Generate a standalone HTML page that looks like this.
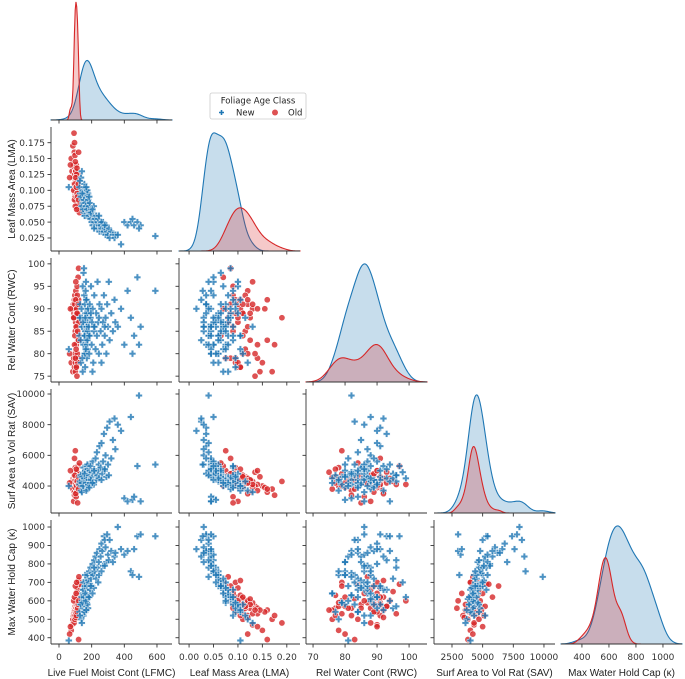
<!DOCTYPE html>
<html><head><meta charset="utf-8"><style>
html,body{margin:0;padding:0;background:#fff;}
svg{display:block;font-family:"DejaVu Sans","Liberation Sans",sans-serif;}
</style></head><body>
<svg id="chart" width="685" height="679" viewBox="0 0 685 679" xmlns="http://www.w3.org/2000/svg">
<g id="plots"></g>
<g>
<rect x="210" y="93" width="96" height="26" rx="2" fill="#fff" stroke="#ccc" stroke-width="0.8"/>
<text x="258" y="103.5" font-size="8.5" text-anchor="middle" fill="#222">Foliage Age Class</text>
<g><path d="M219,112.5 h5 M221.5,110 v5" stroke="#1f77b4" stroke-width="1.6"/><text x="236" y="115.5" font-size="8.5" fill="#222">New</text></g>
<g><circle cx="275" cy="112.5" r="3" fill="#d62728" opacity="0.8"/><text x="288" y="115.5" font-size="8.5" fill="#222">Old</text></g>
</g>
</svg>
<script>
// ---- data (estimated observations) ----
const newLFMC=[125,130,135,140,145,150,150,155,155,160,160,162,165,165,168,170,170,172,175,175,178,140,145,150,155,158,160,163,166,170,173,176,128,133,138,143,148,153,157,161,164,167,171,174,179,
182,185,188,190,193,196,200,203,206,210,213,216,220,224,228,232,236,240,244,248,185,195,205,215,245,
255,260,265,270,275,280,285,290,295,300,305,310,320,330,340,260,280,345,
360,380,400,420,440,450,460,480,500,490,590,60];
const newLMA=[.105,.095,.12,.085,.10,.075,.09,.11,.08,.07,.095,.085,.065,.10,.08,.075,.09,.06,.085,.07,.095,.13,.08,.065,.105,.075,.06,.09,.07,.08,.10,.065,.115,.09,.075,.095,.07,.085,.06,.08,.075,.105,.07,.06,.085,
.075,.06,.065,.08,.055,.07,.05,.065,.045,.06,.075,.05,.055,.045,.06,.04,.05,.055,.045,.035,.09,.065,.07,.04,.06,
.045,.04,.035,.05,.035,.04,.03,.045,.035,.03,.04,.025,.035,.03,.025,.05,.045,.03,
.03,.015,.05,.045,.05,.055,.045,.05,.045,.04,.028,.105];
const newRWC=[84,91,78,88,95,82,86,80,93,85,77,89,83,96,87,79,92,84,88,81,90,86,76,98,84,91,80,94,86,82,89,85,88,83,90,79,87,99,84,88,81,92,86,83,90,
86,80,91,84,88,95,82,87,90,78,85,93,86,81,89,84,96,87,80,91,84,89,76,86,88,
85,90,82,87,93,84,88,80,91,86,96,83,89,85,92,78,86,87,
86,90,82,94,88,80,84,97,86,82,94,81];
const newSAV=[4100,4600,3700,4300,4800,4400,5200,3900,4500,4200,4700,4000,4900,4300,4600,4100,5300,4400,3800,4700,4200,3600,4500,4900,4000,4400,5000,4300,4600,4100,3900,5100,4300,4700,4200,4600,4000,4500,4800,4300,4200,3700,4500,5400,4100,
4400,4700,5000,4200,5300,4500,4900,4600,5600,4300,4100,5100,4800,5800,4400,6200,4700,5000,5400,6600,3900,4400,4200,5000,4500,
5200,6800,4800,5600,7400,5000,6000,4600,7800,5400,4700,8200,5800,7000,8400,4400,5100,6400,
8000,7600,3200,3000,8500,3100,3300,5300,3000,9900,5400,4000];
const newMWHC=[540,580,500,600,560,630,520,580,660,680,540,620,700,570,640,590,660,720,610,680,560,480,640,700,540,670,740,600,660,630,580,710,520,580,620,590,660,620,680,640,600,550,680,740,620,
700,760,680,660,780,720,750,680,800,740,670,820,760,840,720,860,780,700,810,880,620,680,640,780,740,
840,910,870,790,950,930,890,810,960,850,820,930,870,810,840,760,790,860,
1000,880,850,870,760,740,880,950,960,730,950,385];
const oldLFMC=[75,80,85,88,90,92,94,95,96,97,98,99,100,100,101,102,103,104,105,106,107,108,109,110,111,112,113,114,115,116,117,118,120,122,125,92,95,98,100,103,105,107,110,112,115,90,95,100,105,108,97,102,106,111,114,118,120,65,120,70];
const oldLMA=[.15,.13,.17,.12,.14,.11,.16,.10,.125,.09,.135,.105,.115,.095,.13,.10,.12,.085,.11,.14,.095,.105,.075,.12,.09,.11,.08,.10,.125,.085,.07,.095,.105,.08,.065,.19,.175,.155,.145,.13,.115,.125,.135,.115,.10,.10,.085,.075,.09,.07,.11,.12,.105,.095,.09,.11,.085,.12,.16,.14];
const oldRWC=[78,90,76,91,79,89,92,77,88,93,80,90,85,78,91,87,94,79,89,82,92,77,90,86,95,80,88,91,83,89,97,79,92,87,84,88,82,90,76,96,81,89,75,93,78,88,91,79,86,90,84,92,77,89,85,91,99,80,83,90];
const oldSAV=[4000,4300,3800,4500,4100,4700,3600,4200,4400,4900,4000,4300,4600,5200,3900,4200,4500,4800,4100,3700,4400,4600,5000,4200,4300,3900,4700,4100,4400,4800,5300,4000,4500,4200,5500,4300,3400,3900,4600,4100,4400,3600,4900,4200,4500,3000,5800,6300,3300,4000,4700,3500,5100,4300,2900,4600,4100,4200,3800,5000];
const oldMWHC=[440,470,500,520,530,540,550,560,560,570,570,580,580,570,590,590,600,600,610,560,620,630,640,600,650,620,660,670,610,680,690,700,710,730,690,480,520,540,550,530,560,580,550,570,590,600,620,680,640,700,500,510,520,540,560,580,600,420,390,460];
const varLabels=["Live Fuel Moist Cont (LFMC)","Leaf Mass Area (LMA)","Rel Water Cont (RWC)","Surf Area to Vol Rat (SAV)","Max Water Hold Cap (\u03BA)"];
const xTicks=[[0,200,400,600],[0,0.05,0.1,0.15,0.2],[70,80,90,100],[2500,5000,7500,10000],[400,600,800,1000]];
const xTickLabels=[["0","200","400","600"],["0.00","0.05","0.10","0.15","0.20"],["70","80","90","100"],["2500","5000","7500","10000"],["400","600","800","1000"]];
const yTicks=[[],[0.025,0.05,0.075,0.1,0.125,0.15,0.175],[75,80,85,90,95,100],[4000,6000,8000,10000],[400,500,600,700,800,900,1000]];
const yTickLabels=[[],["0.025","0.050","0.075","0.100","0.125","0.150","0.175"],["75","80","85","90","95","100"],["4000","6000","8000","10000"],["400","500","600","700","800","900","1000"]];
// ---- layout ----
const colX=[51,179,306,434,561], W=121;
const rowY=[-4,127,258,389,520], H=124;
const xDom=[[-49,692],[-0.0206,0.227],[67.8,105.6],[1033,10900],[245,1141]];
const yDom=[null,[0.0045,0.1997],[73.7,101.3],[2240,10326],[366,1038]];
const NEW=[newLFMC,newLMA,newRWC,newSAV,newMWHC], OLD=[oldLFMC,oldLMA,oldRWC,oldSAV,oldMWHC];
const BLUE="#1f77b4", RED="#d62728";
const NS="http://www.w3.org/2000/svg";
const root=document.getElementById('plots');
function el(tag,attrs,parent){const e=document.createElementNS(NS,tag);for(const k in attrs)e.setAttribute(k,attrs[k]);(parent||root).appendChild(e);return e;}
function sx(j,v){return colX[j]+(v-xDom[j][0])/(xDom[j][1]-xDom[j][0])*W;}
function sy(i,v){return rowY[i]+H-(v-yDom[i][0])/(yDom[i][1]-yDom[i][0])*H;}
function kde(arr,x){const n=arr.length,m=arr.reduce((a,b)=>a+b,0)/n;const sd=Math.sqrt(arr.reduce((a,b)=>a+(b-m)*(b-m),0)/(n-1));const h=sd*Math.pow(n,-0.2);let s=0;for(const v of arr){const z=(x-v)/h;s+=Math.exp(-0.5*z*z);}return s/(h*Math.sqrt(2*Math.PI));}
for(let i=0;i<5;i++){
  for(let j=0;j<=i;j++){
    const g=el('g',{});
    
    
    const x0=colX[j],y0=rowY[i];
    if(i===j){
      const N=160, xs=[];for(let k=0;k<=N;k++)xs.push(xDom[j][0]+(xDom[j][1]-xDom[j][0])*k/N);
      const dn=xs.map(x=>kde(NEW[j],x)*NEW[j].length), dol=xs.map(x=>kde(OLD[j],x)*OLD[j].length);
      const mx=Math.max(...dn,...dol);
      const yb=y0+H, scale=(H/1.05)/mx;
      [[dn,BLUE,'kde-new'],[dol,RED,'kde-old']].forEach(([d,c,name])=>{
        let p='M'+sx(j,xs[0])+','+yb;
        xs.forEach((x,k)=>{p+=' L'+sx(j,x).toFixed(2)+','+(yb-d[k]*scale).toFixed(2);});
        p+=' L'+sx(j,xs[N])+','+yb+' Z';
        const a=el('path',{d:p,fill:c,'fill-opacity':0.25,stroke:c,'stroke-width':1.1},g);
        
        
      });
    } else {
      OLD[j].forEach((v,k)=>{
        const c=el('circle',{cx:sx(j,v).toFixed(2),cy:sy(i,OLD[i][k]).toFixed(2),r:3.2,fill:RED,'fill-opacity':0.8,stroke:'#fff','stroke-width':0.6},g);
        
        
      });
      NEW[j].forEach((v,k)=>{
        const px=sx(j,v),py=sy(i,NEW[i][k]),a=3.4,b=1.2;
        const d=`M${px-b},${py-a} h${2*b} v${a-b} h${a-b} v${2*b} h${-(a-b)} v${a-b} h${-2*b} v${-(a-b)} h${-(a-b)} v${-2*b} h${a-b} Z`;
        const p=el('path',{d:d,fill:BLUE,'fill-opacity':0.8,stroke:'#fff','stroke-width':0.4},g);
        
        
      });
      el('line',{x1:x0,y1:y0,x2:x0,y2:y0+H,stroke:'#333','stroke-width':0.9},g);
      yTicks[i].forEach((t,k)=>{const y=sy(i,t);el('line',{x1:x0-3.5,y1:y,x2:x0,y2:y,stroke:'#333','stroke-width':0.9},g);
        if(j===0){const tx=el('text',{x:x0-6,y:y+3.2,'font-size':9,'text-anchor':'end',fill:'#333'},g);tx.textContent=yTickLabels[i][k];
          
          }
      });
    }
    el('line',{x1:x0,y1:y0+H,x2:x0+W,y2:y0+H,stroke:'#333','stroke-width':0.9},g);
    xTicks[j].forEach((t,k)=>{const x=sx(j,t);el('line',{x1:x,y1:y0+H,x2:x,y2:y0+H+3.5,stroke:'#333','stroke-width':0.9},g);
      if(i===4){const tx=el('text',{x:x,y:y0+H+16,'font-size':9,'text-anchor':'middle',fill:'#333'},g);tx.textContent=xTickLabels[j][k];
        
        }
    });
  }
}
for(let j=0;j<5;j++){
  const t=el('text',{x:colX[j]+W/2,y:676,'font-size':10,'text-anchor':'middle',fill:'#222','font-family':'Liberation Sans, sans-serif'});
  t.textContent=varLabels[j];
  
  
}
for(let i=1;i<5;i++){
  const cy=rowY[i]+H/2;
  const t=el('text',{x:0,y:0,'font-size':10,'text-anchor':'middle',fill:'#222','font-family':'Liberation Sans, sans-serif',transform:`translate(15,${cy}) rotate(-90)`});
  t.textContent=varLabels[i];
  
  
}
</script>
</body></html>
